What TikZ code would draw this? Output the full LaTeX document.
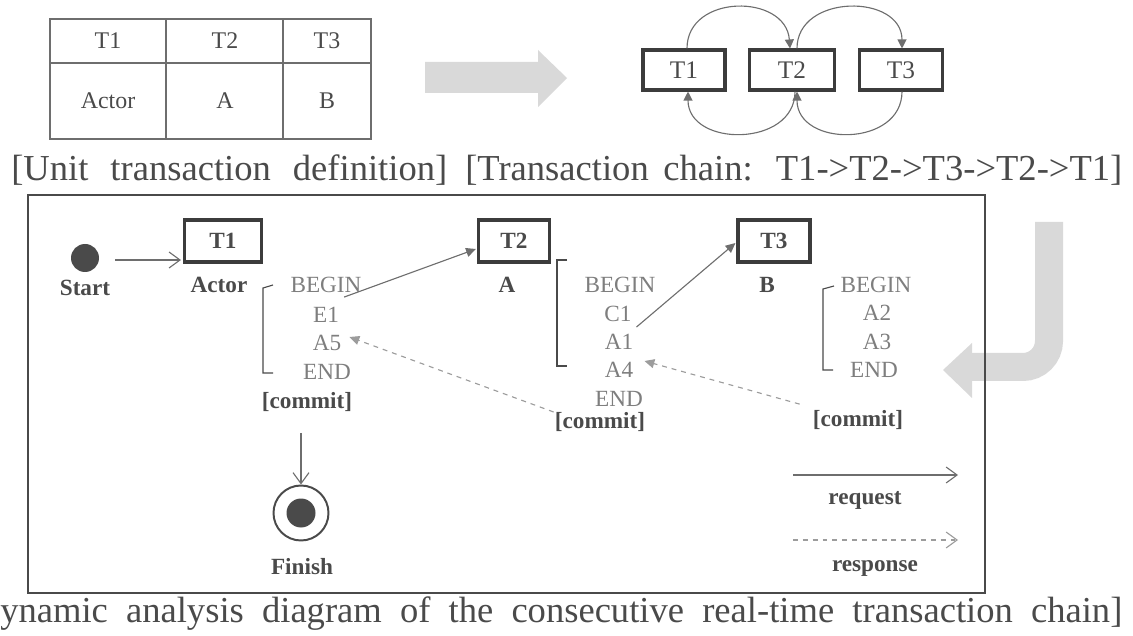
\documentclass[tikz,border=0pt]{standalone}
\usepackage{fontspec}
\setmainfont{Liberation Serif}
\usetikzlibrary{positioning,calc,arrows.meta}

\begin{document}
\begin{tikzpicture}[x=0.025cm,y=-0.025cm]
      \definecolor{ink}{HTML}{4A4A4A}
      \definecolor{boxline}{HTML}{3C3C3C}
      \definecolor{steptext}{HTML}{7E7E7E}
      \definecolor{linkgray}{HTML}{6E6E6E}
      \definecolor{dashgray}{HTML}{9C9C9C}
      \definecolor{bigarrow}{HTML}{D9D9D9}

      \newlength{\pxlen}
      \setlength{\pxlen}{0.025cm}
      \newcommand{\capfont}[0]{\fontsize{26}{30}\selectfont}
      \newcommand{\tablefont}[0]{\rmfamily\fontsize{17}{20}\selectfont}
      \newcommand{\chainfont}[0]{\rmfamily\fontsize{18}{20}\selectfont}
      \newcommand{\labelfont}[0]{\rmfamily\fontsize{16.5}{19}\selectfont\bfseries}
      \newcommand{\stepfont}[0]{\rmfamily\fontsize{16.5}{19}\selectfont}

      \tikzstyle{tbox}      = [rectangle, draw=boxline, line width=2.2pt, fill=white, minimum height=40\pxlen, inner sep=0pt, text=ink]
      \tikzstyle{cell}      = [text=ink, font=\tablefont]
      \tikzstyle{tag}       = [inner sep=0pt, text=ink, font=\labelfont]
      \tikzstyle{stepline}  = [inner sep=0pt, text=steptext, font=\stepfont]
      \tikzstyle{bracket}   = [draw=ink, line width=0.8pt]
      \tikzstyle{chainarc}  = [draw=linkgray, line width=0.8pt, -{Triangle[length=6.4pt, width=6.4pt]}]
      \tikzstyle{connector} = [draw=linkgray, line width=0.8pt, -{Triangle[length=7pt, width=6.4pt]}]
      \tikzstyle{response}  = [draw=dashgray, line width=0.8pt, dash pattern=on 3.5pt off 3.5pt, -{Triangle[length=7pt, width=6.4pt]}]
      \tikzstyle{request}   = [draw=linkgray, line width=0.8pt, -{Straight Barb[length=7.8pt, width=11.4pt]}]

      \useasboundingbox (0,0) rectangle (1133,636);

      % unit transaction table
      \draw [draw=ink!80, line width=1pt] (50,19) rectangle (371,139);
      \draw [draw=ink!80, line width=1pt] (50,63) -- (371,63) (166,19) -- (166,139) (283,19) -- (283,139);
      \node [cell] (cellt1)    at (108,41)  {T1};
      \node [cell] (cellt2)    at (225,41)  {T2};
      \node [cell] (cellt3)    at (327,41)  {T3};
      \node [cell] (cellactor) at (108,101) {Actor};
      \node [cell] (cella)     at (225,101) {A};
      \node [cell] (cellb)     at (327,101) {B};

      % wide arrow to the chain
      \fill [bigarrow] (425,62) -- (538,62) -- (538,50) -- (567,78) -- (538,107) -- (538,93) -- (425,93) -- cycle;

      % transaction chain
      \node [tbox, minimum width=82\pxlen, font=\chainfont] (chaint1) at (684,70) {T1};
      \node [tbox, minimum width=85\pxlen, font=\chainfont] (chaint2) at (792,70) {T2};
      \node [tbox, minimum width=83\pxlen, font=\chainfont] (chaint3) at (901,70) {T3};

      \draw [chainarc] ($(chaint1.north)+(3,0)$) .. controls +(0,-55) and +(-4,-55) .. ($(chaint2.north)+(-2,0)$);
      \draw [chainarc] ($(chaint2.north)+(5,0)$) .. controls +(0,-55) and +(0,-55) .. ($(chaint3.north)+(1,0)$);
      \draw [chainarc] ($(chaint2.south)+(3,0)$) .. controls +(0,56) and +(0,56) .. ($(chaint1.south)+(4,0)$);
      \draw [chainarc] ($(chaint3.south)+(1,0)$) .. controls +(0,56) and +(0,56) .. ($(chaint2.south)+(5,0)$);

      % captions
      \node [anchor=base west, inner sep=0pt, text=ink] (capunit)  at (11,181)  {\capfont\makebox[436\pxlen][s]{[Unit transaction definition]}};
      \node [anchor=base west, inner sep=0pt, text=ink] (capchain) at (465,181) {\capfont\makebox[657\pxlen][s]{[Transaction chain: T1->T2->T3->T2->T1]}};
      \node [anchor=base west, inner sep=0pt, text=ink] (capdyn)   at (0,622)   {\capfont\makebox[1122\pxlen][s]{ynamic analysis diagram of the consecutive real-time transaction chain]}};

      % bent arrow down into the analysis
      \draw [bigarrow, line width=28\pxlen, rounded corners=26\pxlen] (1049,222) |- (972,367);
      \fill [bigarrow] (972,343) -- (943,370) -- (972,398) -- cycle;

      % analysis frame
      \draw [draw=ink, line width=1pt] (28,195) rectangle (985,593);

      % start
      \node [circle, fill=ink, minimum size=28\pxlen, inner sep=0pt] (start) at (85,258) {};
      \node [tag] (startlabel) at (85,288) {Start};

      % T1 / Actor
      \node [tbox, minimum width=77\pxlen, minimum height=42\pxlen, font=\labelfont] (t1) at (223,241) {T1};
      \node [tag] (actor) at (219,285) {Actor};
      \draw [bracket] (273,285) -- (263,288) -- (263,373) -- (273,373);
      \node [stepline] (abegin)   at (326,285) {BEGIN};
      \node [stepline] (ae1)      at (326,315) {E1};
      \node [stepline] (aa5)      at (327,343) {A5};
      \node [stepline] (aend)     at (327,372) {END};
      \node [tag]      (acommit)  at (307,402) {[commit]};

      % T2 / A
      \node [tbox, minimum width=71\pxlen, minimum height=42\pxlen, font=\labelfont] (t2) at (514,241) {T2};
      \node [tag] (a) at (507,285) {A};
      \draw [bracket] (567,260) -- (557,260) -- (557,366) -- (567,366);
      \node [stepline] (bbegin)   at (620,285) {BEGIN};
      \node [stepline] (bc1)      at (618,314) {C1};
      \node [stepline] (ba1)      at (619,342) {A1};
      \node [stepline] (ba4)      at (619,370) {A4};
      \node [stepline] (bend)     at (619,399) {END};
      \node [tag]      (bcommit)  at (600,422) {[commit]};

      % T3 / B
      \node [tbox, minimum width=72\pxlen, minimum height=42\pxlen, font=\labelfont] (t3) at (774,241) {T3};
      \node [tag] (b) at (767,285) {B};
      \draw [bracket] (834,286) -- (823,289) -- (823,370) -- (833,370);
      \node [stepline] (cbegin)   at (876,285) {BEGIN};
      \node [stepline] (ca2)      at (877,313) {A2};
      \node [stepline] (ca3)      at (877,342) {A3};
      \node [stepline] (cend)     at (874,370) {END};
      \node [tag]      (ccommit)  at (858,420) {[commit]};

      % finish
      \node [circle, draw=ink, line width=1.4pt, minimum size=55\pxlen, inner sep=0pt] (finish) at (301,513) {};
      \node [circle, fill=ink, minimum size=29\pxlen, inner sep=0pt] (finishdot) at (finish.center) {};
      \node [tag] (finishlabel) at (302,567) {Finish};

      % requests and responses
      \draw [request]   ($(start.east)+(16,2)$) -- ($(start.east -| t1.west)+(-2,2)$);
      \draw [connector] ($(ae1.north east)+(5,-10)$) -- ($(t2.west)+(-1,8)$);
      \draw [connector] ($(ba1.north east)+(3,-7)$) -- ($(t3.west)+(-1,2)$);
      \draw [response]  ($(ccommit.north west)+(-13,-6)$) -- ($(ba4.east)+(11,-9)$);
      \draw [response]  ($(bcommit.west)+(-1,-10)$) -- ($(aa5.east)+(8,-6)$);
      \draw [request]   ($(acommit.south)+(-6,21)$) -- (finish.north);

      % legend
      \coordinate (reqfrom) at (793,475);
      \coordinate (reqto)   at (958,475);
      \coordinate (resfrom) at (793,540);
      \coordinate (resto)   at (958,540);
      \draw [request] (reqfrom) -- (reqto);
      \draw [request, draw=dashgray, dash pattern=on 3.5pt off 3.5pt] (resfrom) -- (resto);
      \node [tag] (requestlabel)  at (865,500) {request};
      \node [tag] (responselabel) at (875,568) {response};
    \end{tikzpicture}
\end{document}
